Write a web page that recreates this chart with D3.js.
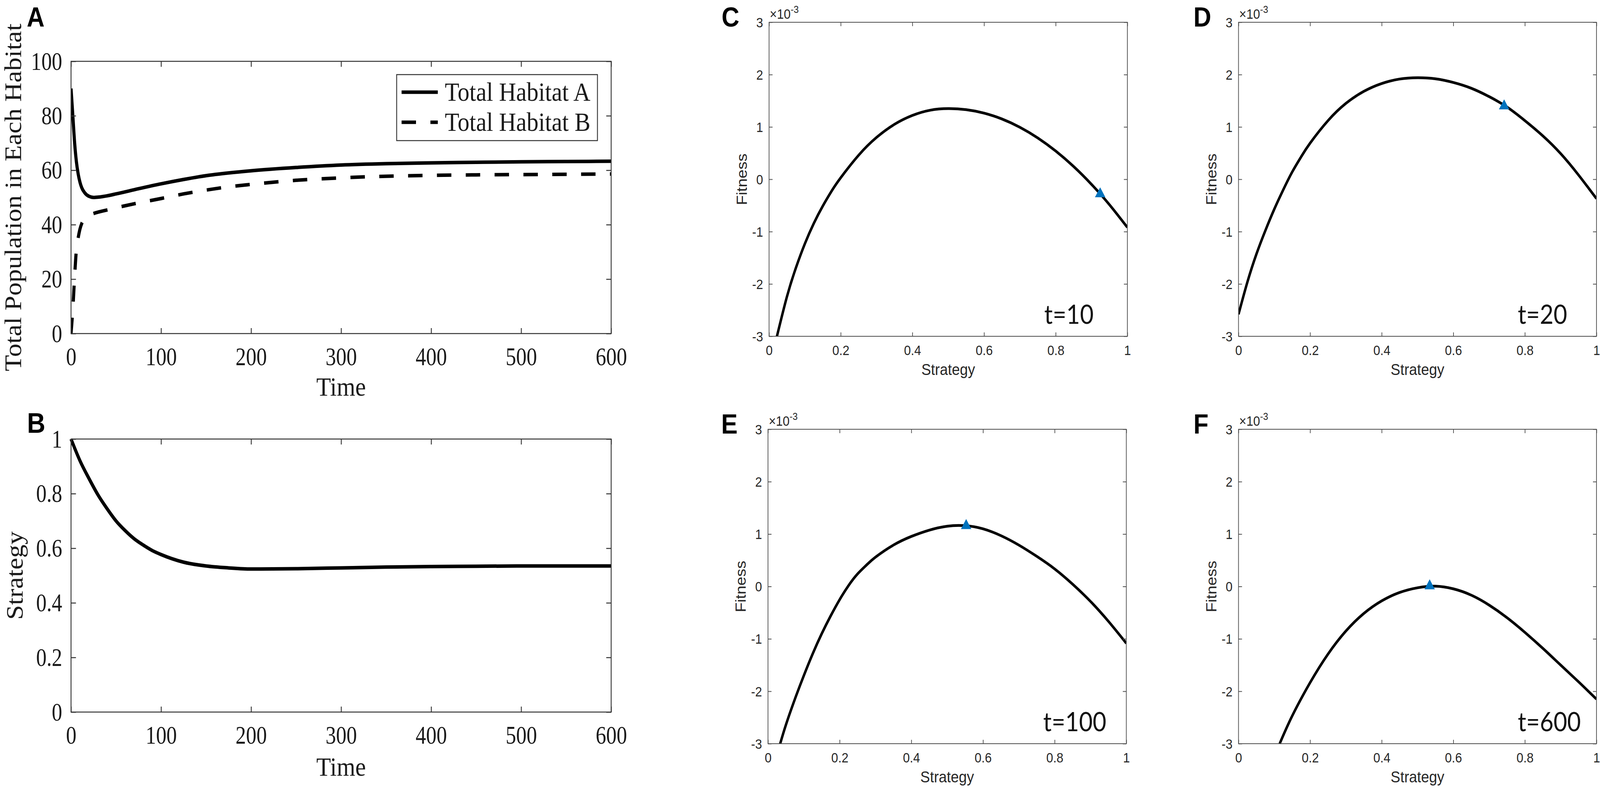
<!DOCTYPE html>
<html>
<head>
<meta charset="utf-8">
<script src="https://cdn.jsdelivr.net/npm/d3@7"></script>
<style>
  html, body { margin: 0; padding: 0; background: #ffffff; width: 100%; height: 100%; overflow: hidden; }
  svg { display: block; width: 100vw; height: 100vh; }
</style>
</head>
<body>
<svg id="chart" viewBox="0 0 4550 2020" preserveAspectRatio="none"></svg>
<script>
// ---------------- DATA ----------------
// Panel A: total population per habitat over time
const popTime   = [0, 2, 4, 6, 8, 10, 12, 15, 20, 25, 30, 40, 50, 75, 100, 125, 150, 175, 200, 250, 300, 350, 400, 450, 500, 550, 600];
const habitatA  = [90, 80, 70, 63, 58.5, 55.5, 53.5, 51.8, 50.4, 50.0, 50.1, 50.6, 51.3, 53.2, 55.0, 56.6, 58.0, 59.0, 59.8, 61.0, 61.9, 62.4, 62.7, 62.9, 63.1, 63.2, 63.3];
const habitatB  = [0, 9, 21, 31, 35.3, 38.5, 40.5, 42.2, 43.5, 44.1, 44.6, 45.4, 46.2, 48.0, 49.6, 51.3, 52.7, 53.9, 54.8, 56.3, 57.2, 57.8, 58.1, 58.3, 58.4, 58.5, 58.6];
const legendLabels = ["Total Habitat A", "Total Habitat B"];

// Panel B: strategy over time
const stratTime = [0, 10, 20, 30, 40, 50, 60, 70, 80, 90, 100, 125, 150, 175, 200, 250, 300, 350, 400, 450, 500, 550, 600];
const strategy  = [1.0, 0.92, 0.855, 0.795, 0.745, 0.70, 0.665, 0.635, 0.612, 0.592, 0.577, 0.549, 0.535, 0.528, 0.524, 0.525, 0.528, 0.531, 0.533, 0.534, 0.535, 0.535, 0.535];

// Axis ticks for A and B
const timeTicks       = [0, 100, 200, 300, 400, 500, 600];
const popTicks        = [0, 20, 40, 60, 80, 100];
const stratTicks      = [0, 0.2, 0.4, 0.6, 0.8, 1];
const stratTickLabels = ["0", "0.2", "0.4", "0.6", "0.8", "1"];

// Panels C-F: fitness vs strategy (values in units of 1e-3)
const fitC_x = [0.022, 0.05, 0.075, 0.1, 0.125, 0.15, 0.175, 0.2, 0.25, 0.3, 0.35, 0.4, 0.45, 0.5, 0.55, 0.6, 0.65, 0.7, 0.75, 0.8, 0.85, 0.9, 0.95, 1.0];
const fitC_y = [-3, -2.24, -1.69, -1.23, -0.84, -0.51, -0.22, 0.03, 0.46, 0.80, 1.05, 1.22, 1.32, 1.35, 1.33, 1.264, 1.152, 0.994, 0.79, 0.54, 0.244, -0.098, -0.486, -0.92];
const fitD_x = [0, 0.025, 0.05, 0.075, 0.1, 0.125, 0.15, 0.175, 0.2, 0.25, 0.3, 0.35, 0.4, 0.45, 0.5, 0.55, 0.6, 0.65, 0.7, 0.75, 0.8, 0.85, 0.9, 0.95, 1.0];
const fitD_y = [-2.58, -1.96, -1.43, -0.98, -0.57, -0.2, 0.14, 0.43, 0.69, 1.12, 1.45, 1.68, 1.83, 1.915, 1.94, 1.92, 1.85, 1.74, 1.58, 1.38, 1.12, 0.83, 0.49, 0.08, -0.37];
const fitE_x = [0.034, 0.05, 0.075, 0.1, 0.125, 0.15, 0.175, 0.2, 0.225, 0.25, 0.275, 0.3, 0.35, 0.4, 0.45, 0.5, 0.55, 0.6, 0.65, 0.7, 0.75, 0.8, 0.85, 0.9, 0.95, 1.0];
const fitE_y = [-3, -2.64, -2.15, -1.70, -1.28, -0.90, -0.56, -0.25, 0.02, 0.24, 0.41, 0.56, 0.79, 0.955, 1.075, 1.15, 1.16, 1.10, 0.97, 0.79, 0.575, 0.335, 0.045, -0.285, -0.665, -1.085];
const fitF_x = [0.115, 0.15, 0.2, 0.25, 0.3, 0.35, 0.4, 0.45, 0.5, 0.55, 0.6, 0.65, 0.7, 0.75, 0.8, 0.85, 0.9, 0.95, 1.0];
const fitF_y = [-3, -2.47, -1.835, -1.29, -0.85, -0.515, -0.275, -0.115, -0.025, 0.005, -0.045, -0.165, -0.355, -0.595, -0.875, -1.18, -1.50, -1.82, -2.15];

// Current strategy markers (blue triangles)
const markerX = [0.924, 0.742, 0.553, 0.534];
const markerY = [-0.28, 1.40, 1.16, 0.01];
const timeLabels = ["t=10", "t=20", "t=100", "t=600"];

const fitXTicks = [0, 0.2, 0.4, 0.6, 0.8, 1];
const fitXTickLabels = ["0", "0.2", "0.4", "0.6", "0.8", "1"];
const fitYTicks = [-3, -2, -1, 0, 1, 2, 3];
const fitYTickLabels = ["-3", "-2", "-1", "0", "1", "2", "3"];

const panelLetters = ["A", "B", "C", "D", "E", "F"];

// ---------------- LAYOUT ----------------
const svg = d3.select("#chart");
const SERIF = "'Liberation Serif', 'Times New Roman', serif";
const SANS = "'Liberation Sans', Arial, Helvetica, sans-serif";
const BOLD = "'Liberation Sans', Arial, sans-serif";

const boxA = {x0: 202, x1: 1738, y0: 157, y1: 854};
const boxB = {x0: 202, x1: 1738, y0: 1124, y1: 1823};
const boxesR = [
  {x0: 2187, x1: 3206, y0: 57,   y1: 861},
  {x0: 3522, x1: 4540, y0: 57,   y1: 861},
  {x0: 2184, x1: 3203, y0: 1099, y1: 1904},
  {x0: 3522, x1: 4540, y0: 1099, y1: 1904}
];

// ---------------- helpers ----------------
function frame(g, b, color, w) {
  g.append("rect").attr("x", b.x0).attr("y", b.y0)
    .attr("width", b.x1 - b.x0).attr("height", b.y1 - b.y0)
    .attr("fill", "none").attr("stroke", color).attr("stroke-width", w);
}

function serifAxes(g, b, sx, sy, xTicks, yTicks, yFmt) {
  const tick = 14, col = "#333";
  const ax = [
    [d3.axisBottom(sx).tickValues(xTicks).tickSize(-tick), `translate(0,${b.y1})`, true, "x"],
    [d3.axisTop(sx).tickValues(xTicks).tickSize(-tick).tickFormat(""), `translate(0,${b.y0})`, false, "x"],
    [d3.axisLeft(sy).tickValues(yTicks).tickSize(-tick).tickFormat(yFmt), `translate(${b.x0},0)`, true, "y"],
    [d3.axisRight(sy).tickValues(yTicks).tickSize(-tick).tickFormat(""), `translate(${b.x1},0)`, false, "y"]
  ];
  ax.forEach(([a, tr, lab, dir]) => {
    const ag = g.append("g").attr("transform", tr).call(a.tickSizeOuter(0));
    ag.select(".domain").remove();
    ag.selectAll(".tick line").attr("stroke", col).attr("stroke-width", 2.5);
    if (!lab) { ag.selectAll(".tick text").remove(); return; }
    const t = ag.selectAll(".tick text")
      .attr("font-family", SERIF).attr("font-size", 66).attr("fill", "#1a1a1a");
    if (dir === "x") {
      t.attr("y", 81).attr("dy", 0).attr("x", 0).attr("transform", "scale(0.9,1)")
       .attr("text-anchor", "middle");
    } else {
      t.attr("x", -25 / 0.9).attr("dy", "0.32em").attr("transform", "scale(0.9,1)")
       .attr("text-anchor", "end");
    }
  });
  frame(g, b, col, 2.5);
}

function sansAxes(g, b, sx, sy) {
  const tick = 10, col = "#4d4d4d";
  const ax = [
    [d3.axisBottom(sx).tickValues(fitXTicks).tickSize(-tick).tickFormat((d, i) => fitXTickLabels[i]), `translate(0,${b.y1})`, true, "x"],
    [d3.axisTop(sx).tickValues(fitXTicks).tickSize(-tick).tickFormat(""), `translate(0,${b.y0})`, false, "x"],
    [d3.axisLeft(sy).tickValues(fitYTicks).tickSize(-tick).tickFormat((d, i) => fitYTickLabels[i]), `translate(${b.x0},0)`, true, "y"],
    [d3.axisRight(sy).tickValues(fitYTicks).tickSize(-tick).tickFormat(""), `translate(${b.x1},0)`, false, "y"]
  ];
  ax.forEach(([a, tr, lab, dir]) => {
    const ag = g.append("g").attr("transform", tr).call(a.tickSizeOuter(0));
    ag.select(".domain").remove();
    ag.selectAll(".tick line").attr("stroke", col).attr("stroke-width", 2);
    if (!lab) { ag.selectAll(".tick text").remove(); return; }
    const t = ag.selectAll(".tick text")
      .attr("font-family", SANS).attr("font-size", 35).attr("fill", "#262626");
    if (dir === "x") {
      t.attr("y", 48).attr("dy", 0).attr("text-anchor", "middle");
    } else {
      t.attr("x", -17).attr("dy", "0.35em").attr("text-anchor", "end");
    }
  });
  frame(g, b, col, 2);
}

function letter(txt, x, y, size) {
  svg.append("text").attr("x", x).attr("y", y).text(txt)
    .attr("font-family", BOLD).attr("font-weight", "bold")
    .attr("font-size", size || 72).attr("fill", "#000");
}

// ---------------- Panel A ----------------
{
  const b = boxA;
  const g = svg.append("g");
  const sx = d3.scaleLinear().domain([0, 600]).range([b.x0, b.x1]);
  const sy = d3.scaleLinear().domain([0, 100]).range([b.y1, b.y0]);
  g.append("clipPath").attr("id", "clipA").append("rect")
    .attr("x", b.x0).attr("y", b.y0).attr("width", b.x1 - b.x0).attr("height", b.y1 - b.y0);
  const line = d3.line().x((d, i) => sx(popTime[i])).y(d => sy(d)).curve(d3.curveMonotoneX);
  const lines = g.append("g").attr("clip-path", "url(#clipA)");
  lines.append("path").attr("d", line(habitatB)).attr("fill", "none")
    .attr("stroke", "#000").attr("stroke-width", 9).attr("stroke-dasharray", "41,41");
  lines.append("path").attr("d", line(habitatA)).attr("fill", "none")
    .attr("stroke", "#000").attr("stroke-width", 9).attr("stroke-linejoin", "round");
  serifAxes(g, b, sx, sy, timeTicks, popTicks, d => String(d));

  // legend
  const lg = g.append("g");
  lg.append("rect").attr("x", 1128).attr("y", 191).attr("width", 571).attr("height", 169)
    .attr("fill", "#fff").attr("stroke", "#333").attr("stroke-width", 2.5);
  const rows = [236, 313];
  legendLabels.forEach((lab, i) => {
    lg.append("line").attr("x1", 1142).attr("x2", 1245).attr("y1", rows[i]).attr("y2", rows[i])
      .attr("stroke", "#000").attr("stroke-width", 9)
      .attr("stroke-dasharray", i === 1 ? "41,41" : null);
    lg.append("text").attr("x", 1265).attr("y", rows[i] + 22).text(lab)
      .attr("font-family", SERIF).attr("font-size", 68).attr("fill", "#1a1a1a")
      .attr("textLength", 414).attr("lengthAdjust", "spacingAndGlyphs");
  });

  g.append("text").attr("transform", `translate(60,${(b.y0 + b.y1) / 2}) rotate(-90)`)
    .attr("text-anchor", "middle").text("Total Population in Each Habitat")
    .attr("font-family", SERIF).attr("font-size", 68).attr("fill", "#1a1a1a");
  g.append("text").attr("x", (b.x0 + b.x1) / 2).attr("y", 1013).attr("text-anchor", "middle")
    .text("Time").attr("font-family", SERIF).attr("font-size", 68).attr("fill", "#1a1a1a");
  letter(panelLetters[0], 76, 68, 70);
}

// ---------------- Panel B ----------------
{
  const b = boxB;
  const g = svg.append("g");
  const sx = d3.scaleLinear().domain([0, 600]).range([b.x0, b.x1]);
  const sy = d3.scaleLinear().domain([0, 1]).range([b.y1, b.y0]);
  const line = d3.line().x((d, i) => sx(stratTime[i])).y(d => sy(d)).curve(d3.curveMonotoneX);
  g.append("path").attr("d", line(strategy)).attr("fill", "none")
    .attr("stroke", "#000").attr("stroke-width", 9).attr("stroke-linejoin", "round");
  serifAxes(g, b, sx, sy, timeTicks, stratTicks, (d, i) => stratTickLabels[i]);
  g.append("text").attr("transform", `translate(64,${(b.y0 + b.y1) / 2}) rotate(-90)`)
    .attr("text-anchor", "middle").text("Strategy")
    .attr("font-family", SERIF).attr("font-size", 68).attr("fill", "#1a1a1a");
  g.append("text").attr("x", (b.x0 + b.x1) / 2).attr("y", 1986).attr("text-anchor", "middle")
    .text("Time").attr("font-family", SERIF).attr("font-size", 68).attr("fill", "#1a1a1a");
  letter(panelLetters[1], 77, 1108);
}

// ---------------- Panels C-F ----------------
const fitSeries = [[fitC_x, fitC_y], [fitD_x, fitD_y], [fitE_x, fitE_y], [fitF_x, fitF_y]];
const labelXFrac = [0.768, 0.78, 0.768, 0.78];
const letterPos = [[2052, 68], [3394, 68], [2051, 1110], [3394, 1110]];

fitSeries.forEach(([xs, ys], k) => {
  const b = boxesR[k];
  const g = svg.append("g");
  const sx = d3.scaleLinear().domain([0, 1]).range([b.x0, b.x1]);
  const sy = d3.scaleLinear().domain([-3, 3]).range([b.y1, b.y0]);
  const cid = "clipR" + k;
  g.append("clipPath").attr("id", cid).append("rect")
    .attr("x", b.x0).attr("y", b.y0 - 2).attr("width", b.x1 - b.x0).attr("height", b.y1 - b.y0 + 4);
  const line = d3.line().x((d, i) => sx(xs[i])).y(d => sy(d)).curve(d3.curveNatural);
  g.append("path").attr("clip-path", `url(#${cid})`).attr("d", line(ys)).attr("fill", "none")
    .attr("stroke", "#000").attr("stroke-width", 7).attr("stroke-linejoin", "round");
  sansAxes(g, b, sx, sy);

  g.append("path").attr("d", d3.symbol().type(d3.symbolTriangle).size(380)())
    .attr("transform", `translate(${sx(markerX[k])},${sy(markerY[k])})`)
    .attr("fill", "#0072BD");

  // exponent multiplier
  const ex = g.append("text").attr("x", b.x0 + 2).attr("y", b.y0 - 9)
    .attr("font-family", SANS).attr("font-size", 35).attr("fill", "#262626");
  ex.append("tspan").text("\u00D710");
  ex.append("tspan").attr("dy", -15).attr("font-size", 26).text("-3");

  g.append("text").attr("transform", `translate(${b.x0 - 63},${(b.y0 + b.y1) / 2}) rotate(-90)`)
    .attr("text-anchor", "middle").text("Fitness")
    .attr("font-family", SANS).attr("font-size", 41).attr("fill", "#262626");
  g.append("text").attr("x", (b.x0 + b.x1) / 2).attr("y", b.y1 + 99).attr("text-anchor", "middle")
    .text("Strategy").attr("font-family", SANS).attr("font-size", 41).attr("fill", "#262626");

  g.append("text").attr("x", sx(labelXFrac[k])).attr("y", b.y1 - 32).text(timeLabels[k])
    .attr("font-family", "Lato, 'Open Sans', sans-serif").attr("font-size", 67).attr("fill", "#111");

  letter(panelLetters[k + 2], letterPos[k][0], letterPos[k][1], 70);
});
</script>
</body>
</html>
